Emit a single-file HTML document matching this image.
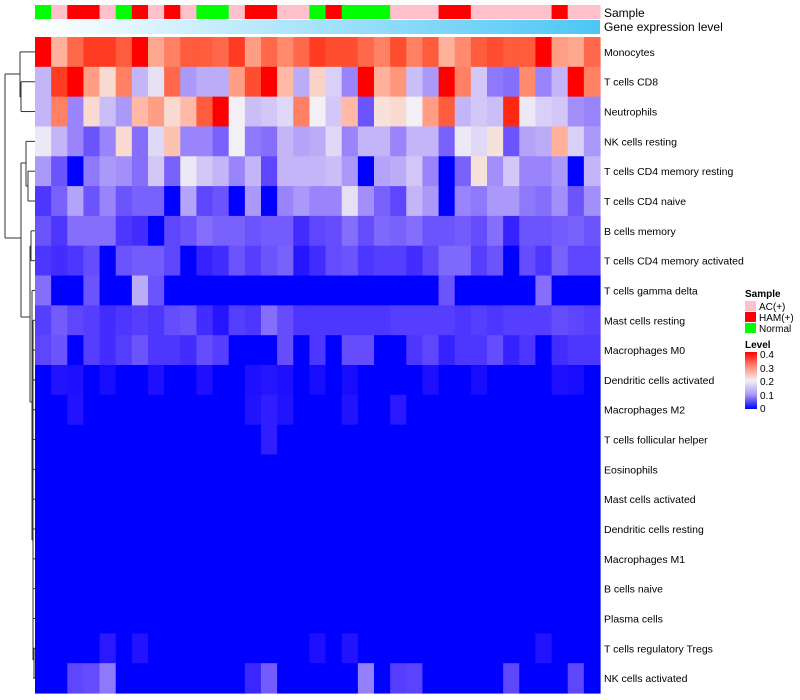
<!DOCTYPE html>
<html><head><meta charset="utf-8"><style>
body{margin:0;background:#fff;width:800px;height:700px;overflow:hidden;font-family:"Liberation Sans",sans-serif;}
svg{display:block}
</style></head><body>
<svg id="chart" width="800" height="700" xmlns="http://www.w3.org/2000/svg" font-family="Liberation Sans, sans-serif">
<defs>
<linearGradient id="geneGrad" x1="0" x2="1" y1="0" y2="0"><stop offset="0" stop-color="#ffffff"/><stop offset="1" stop-color="#4cc6f6"/></linearGradient>
<linearGradient id="levelGrad" x1="0" x2="0" y1="0" y2="1"><stop offset="0" stop-color="#ff0000"/><stop offset="0.25" stop-color="#ff8a70"/><stop offset="0.5" stop-color="#f2f0f4"/><stop offset="0.75" stop-color="#a898f8"/><stop offset="1" stop-color="#0000ff"/></linearGradient>
</defs>
<g id="dendro" stroke="#333" stroke-width="1" fill="none"></g>
<g id="cells"></g>
<g id="annot"></g>
<rect x="35" y="20" width="565" height="14" fill="url(#geneGrad)"/>
<text x="604" y="17" font-size="12">Sample</text>
<text x="604" y="31" font-size="12">Gene expression level</text>
<g id="rowlabels" font-size="10.5"></g>
<g font-size="10">
<text x="745" y="297" font-weight="bold">Sample</text>
<rect x="745" y="301" width="11" height="10" fill="#ffc0cb"/>
<text x="759" y="310">AC(+)</text>
<rect x="745" y="312" width="11" height="10" fill="#ff0000"/>
<text x="759" y="321">HAM(+)</text>
<rect x="745" y="323" width="11" height="10" fill="#00ff00"/>
<text x="759" y="332">Normal</text>
<text x="745" y="348" font-weight="bold">Level</text>
<rect x="745" y="352" width="12" height="57" fill="url(#levelGrad)"/>
<text x="760" y="358">0.4</text>
<text x="760" y="372">0.3</text>
<text x="760" y="385">0.2</text>
<text x="760" y="399">0.1</text>
<text x="760" y="412">0</text>
</g>
</svg>
<script>
const rowNames=["Monocytes","T cells CD8","Neutrophils","NK cells resting","T cells CD4 memory resting","T cells CD4 naive","B cells memory","T cells CD4 memory activated","T cells gamma delta","Mast cells resting","Macrophages M0","Dendritic cells activated","Macrophages M2","T cells follicular helper","Eosinophils","Mast cells activated","Dendritic cells resting","Macrophages M1","B cells naive","Plasma cells","T cells regulatory  Tregs","NK cells activated"];
const sampleGroups=["N","A","H","H","A","N","H","A","H","A","N","N","A","H","H","A","A","N","H","N","N","N","A","A","A","H","H","A","A","A","A","A","H","A","A"];
const sampleColors={A:"#ffc0cb",H:"#ff0000",N:"#00ff00"};
const Z=new Array(35).fill(0);
function sparse(pairs){const a=Z.slice();pairs.forEach(p=>a[p[0]]=p[1]);return a;}
const vMono=[0.4,0.28,0.35,0.38,0.38,0.36,0.4,0.29,0.33,0.36,0.36,0.35,0.38,0.3,0.35,0.32,0.35,0.38,0.37,0.37,0.35,0.33,0.37,0.33,0.36,0.28,0.32,0.36,0.37,0.36,0.36,0.4,0.3,0.29,0.35];
const vCD8=[0.13,0.38,0.4,0.3,0.23,0.33,0.13,0.18,0.35,0.1,0.12,0.12,0.3,0.37,0.4,0.27,0.12,0.24,0.16,0.08,0.4,0.28,0.31,0.14,0.1,0.4,0.33,0.15,0.07,0.06,0.32,0.08,0.13,0.4,0.33];
const vNeut=[0.13,0.33,0.08,0.23,0.14,0.1,0.27,0.3,0.23,0.27,0.36,0.4,0.2,0.14,0.15,0.17,0.33,0.2,0.15,0.27,0.04,0.22,0.23,0.2,0.3,0.36,0.13,0.15,0.14,0.39,0.19,0.16,0.15,0.09,0.08];
const vNKr=[0.19,0.13,0.08,0.04,0.08,0.23,0.06,0.17,0.26,0.08,0.08,0.05,0.2,0.07,0.06,0.13,0.11,0.12,0.17,0.08,0.13,0.13,0.08,0.13,0.13,0.05,0.19,0.17,0.22,0.04,0.11,0.12,0.28,0.16,0.1];
const vCD4mr=[0.1,0.04,0,0.07,0.1,0.09,0.06,0.15,0.05,0.19,0.15,0.13,0.08,0.13,0.03,0.13,0.13,0.13,0.14,0.1,0,0.11,0.12,0.15,0.08,0,0.05,0.22,0.09,0.15,0.08,0.08,0.1,0,0.13];
const vCD4n=[0.02,0.05,0.11,0.04,0.08,0.04,0.05,0.05,0,0.11,0.03,0.04,0,0.1,0,0.08,0.1,0.08,0.08,0.18,0.09,0.05,0.03,0.13,0.1,0,0.08,0.07,0.1,0.1,0.07,0.06,0.09,0.04,0.09];
const vBmem=[0.04,0.02,0.06,0.06,0.06,0.02,0.015,0,0.03,0.04,0.06,0.05,0.05,0.04,0.045,0.045,0.015,0.03,0.035,0.06,0.035,0.055,0.05,0.06,0.04,0.04,0.045,0.035,0.06,0.01,0.04,0.04,0.045,0.05,0.04];
const vCD4ma=[0.02,0.015,0.02,0.035,0,0.04,0.045,0.045,0.03,0,0.01,0.015,0.04,0.025,0.04,0.05,0.005,0.015,0.035,0.04,0.02,0.025,0.025,0.015,0.03,0.055,0.055,0.025,0.04,0,0.035,0.02,0.05,0.03,0.03];
const vGd=sparse([[0,0.06],[3,0.04],[6,0.12],[7,0.04],[25,0.04],[31,0.06]]);
const vMast=[0.025,0.045,0.03,0.025,0.015,0.02,0.025,0.02,0.035,0.04,0.015,0.005,0.025,0.02,0.06,0.035,0.02,0.02,0.02,0.02,0.02,0.02,0.025,0.025,0.025,0.025,0.02,0.025,0.02,0.025,0.025,0.025,0.035,0.03,0.025];
const vM0=[0.03,0.04,0,0.025,0.015,0.025,0.04,0.02,0.02,0.015,0.035,0.025,0,0,0,0.035,0,0.02,0,0.035,0.035,0,0,0.02,0.03,0.01,0.02,0.02,0.035,0.01,0.02,0,0.015,0.02,0.02];
const vDCa=sparse([[1,0.004],[2,0.003],[4,0.002],[7,0.003],[10,0.003],[13,0.003],[14,0.005],[15,0.003],[17,0.002],[19,0.002],[24,0.003],[27,0.002],[32,0.003],[33,0.002]]);
const vM2=sparse([[2,0.004],[13,0.004],[14,0.008],[15,0.004],[19,0.004],[22,0.006]]);
const vTfh=sparse([[14,0.008]]);
const vEos=Z.slice(),vMastA=Z.slice(),vDCr=Z.slice(),vM1=Z.slice(),vBn=Z.slice(),vPlasma=Z.slice();
const vTreg=sparse([[4,0.006],[6,0.004],[17,0.003],[19,0.004],[31,0.004]]);
const vNKa=sparse([[2,0.03],[3,0.035],[4,0.07],[13,0.012],[14,0.045],[20,0.075],[22,0.025],[23,0.028],[29,0.03],[33,0.03]]);
const matrix=[vMono,vCD8,vNeut,vNKr,vCD4mr,vCD4n,vBmem,vCD4ma,vGd,vMast,vM0,vDCa,vM2,vTfh,vEos,vMastA,vDCr,vM1,vBn,vPlasma,vTreg,vNKa];

const X0=35,X1=600,Y0=37,Y1=693;
const nC=sampleGroups.length,nR=rowNames.length;
const cw=(X1-X0)/nC,rh=(Y1-Y0)/nR;
const xPos=i=>X0+i*cw, yPos=j=>Y0+j*rh;
function color(v){
  const t=Math.max(0,Math.min(0.4,v))/0.2;
  let r,g,b;
  if(t<=1){r=Math.round(242*Math.pow(t,0.5));g=Math.round(240*Math.pow(t,0.65));b=Math.round(255-11*t);}
  else{const s=t-1;r=Math.round(242+13*Math.min(1,s*3));g=Math.round(240*Math.pow(1-s,0.6));b=Math.round(240*Math.pow(1-s,0.85));}
  return `rgb(${r},${g},${b})`;
}
const NS="http://www.w3.org/2000/svg";
const cells=document.getElementById('cells');
matrix.forEach((row,j)=>row.forEach((v,i)=>{
  const r=document.createElementNS(NS,'rect');
  r.setAttribute('x',xPos(i));r.setAttribute('y',yPos(j));
  r.setAttribute('width',cw+0.6);r.setAttribute('height',rh+0.6);
  r.setAttribute('fill',color(v));
  
  
  cells.appendChild(r);
}));
const annot=document.getElementById('annot');
sampleGroups.forEach((g,i)=>{
  const r=document.createElementNS(NS,'rect');
  r.setAttribute('x',xPos(i));r.setAttribute('y',5);
  r.setAttribute('width',cw+0.6);r.setAttribute('height',14);
  r.setAttribute('fill',sampleColors[g]);
  
  
  annot.appendChild(r);
});
const rl=document.getElementById('rowlabels');
rowNames.forEach((n,j)=>{
  const t=document.createElementNS(NS,'text');
  t.setAttribute('x',604);t.setAttribute('y',yPos(j)+rh/2+4);
  t.textContent=n;
  
  
  rl.appendChild(t);
});
const cy=j=>yPos(j)+rh/2;
const segs=[];
function L(x1,y1,x2,y2){segs.push([x1,y1,x2,y2]);}
function leaf(x,j){L(x,cy(j),35,cy(j));}
leaf(20,0);L(20,cy(0),20,97);L(20,97,21,97);L(21,cy(1),21,cy(2));leaf(21,1);leaf(21,2);
L(5,74,20,74);L(5,74,5,238);L(5,238,21,238);
L(21,163,21,317);L(21,163,26,163);L(26,cy(3),26,186);leaf(26,3);L(26,186,28,186);L(28,cy(4),28,cy(5));leaf(28,4);leaf(28,5);
L(21,317,30,317);L(30,246,30,402);L(30,246,31,246);L(31,cy(6),31,cy(7));leaf(31,6);leaf(31,7);
L(30,402,32,402);L(32,cy(8),32,540);leaf(32,8);
L(32,540,33,540);L(33,cy(9),33,660);
for(let j=9;j<nR;j++){leaf(33,j);}
L(33,660,34,660);L(34,cy(20),34,cy(21));
const dg=document.getElementById('dendro');
segs.forEach(s=>{const l=document.createElementNS(NS,'line');
  l.setAttribute('x1',s[0]);l.setAttribute('y1',s[1]);l.setAttribute('x2',s[2]);l.setAttribute('y2',s[3]);
  
  
  dg.appendChild(l);});
</script>
</body></html>
